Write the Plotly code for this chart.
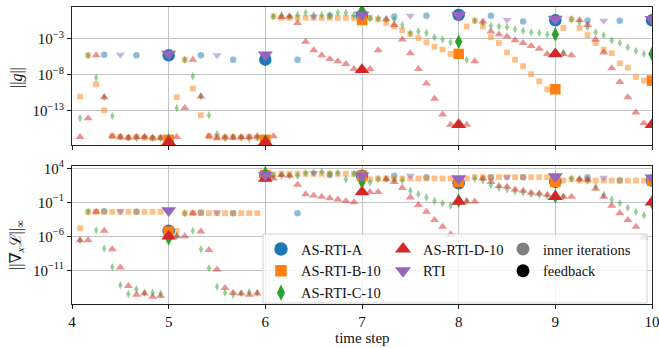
import plotly.graph_objects as go

N = None
STEPS = [4, 5, 6, 7, 8, 9]          # start of each time step (inner iterations follow)
FB_STEPS = [5, 6, 7, 8, 9, 10]      # feedback instants
SUB = 12                             # inner iterations spaced 1/12 of a step

SERIES = ["AS-RTI-A", "AS-RTI-B-10", "AS-RTI-C-10", "AS-RTI-D-10", "RTI"]

# ---------------- top panel: log10 ||g|| ----------------
A_g_in = [
    [N, N, N, -5.2, N, N, N, -5.3, N, N, N],
    [N, N, N, -5.3, N, N, N, -5.9, N, N, N],
    [N, N, N, -5.9, N, N, N, 0.2, N, N, N],
    [N, N, N, 0.1, N, N, N, 0.2, N, N, N],
    [N, N, N, 0.2, N, N, N, -0.6, N, N, N],
    [N, N, N, -0.5, N, N, N, -0.5, N, N, N],
]
A_g_fb = [-5.3, -5.9, 0.2, 0.3, -0.45, -0.45]

B_g_in = [
    [-11.0, -5.3, -9.3, -12.9, -16.5, -16.6, -16.7, -16.6, -16.7, -16.8, -16.7],
    [-11.1, -5.9, -9.9, -13.6, -16.5, -16.6, -16.7, -16.6, -16.7, -16.6, -16.7],
    [0.1, -0.1, -0.1, -0.1, -0.1, -0.1, -0.1, -0.1, -0.1, -0.1, -0.1],
    [-0.1, -0.3, -0.8, -1.3, -1.8, -2.35, -2.9, -3.5, -4.1, -4.5, -5.1],
    [-1.3, -0.5, -1.3, -2.8, -3.6, -4.9, -5.9, -6.8, -7.9, -8.9, -10.0],
    [-1.5, -0.3, -1.5, -2.5, -3.6, -4.5, -5.0, -6.4, -7.0, -8.3, -8.8],
]
B_g_fb = [-17.0, -17.0, -0.4, -5.1, -10.0, -8.8]

C_g_in = [
    [-14.0, -5.3, -8.4, -11.1, -13.7, -16.6, -16.7, -16.8, -16.6, -16.7, -16.8],
    [-12.6, -5.9, -8.2, -11.0, -13.6, -16.2, -16.8, -16.6, -16.7, -16.9, -16.7],
    [0.1, 0.3, 0.1, 0.3, 0.6, 0.3, 0.3, 0.3, 0.6, 0.6, 0.3],
    [-0.2, -0.2, -0.3, -0.4, -1.1, -2.2, -2.0, -2.2, -2.8, -3.1, -3.5],
    [-5.9, -0.5, -0.8, -1.2, -1.3, -1.4, -1.7, -1.9, -2.1, -2.2, -2.4],
    [-4.9, -0.3, -0.7, -1.4, -2.1, -2.5, -3.2, -3.6, -4.2, -4.7, -5.1],
]
C_g_fb = [-17.1, -17.2, 0.9, -3.4, -2.4, -5.1]

D_g_in = [
    [-16.6, -14.0, -5.3, -11.1, -16.5, -16.6, -16.7, -16.6, -16.6, -16.7, -16.7],
    [-16.6, -12.6, -5.9, -11.0, -16.5, -16.8, -16.6, -16.7, -16.6, -16.6, -16.5],
    [-16.5, 0.0, 0.1, -0.8, -3.4, -4.6, -5.3, -5.8, -6.1, -6.5, -7.2],
    [-7.2, -4.6, -0.3, -1.1, -3.1, -5.0, -7.2, -9.2, -11.3, -13.5, -14.9],
    [-14.9, -6.1, -0.6, -2.0, -2.4, -2.7, -3.2, -3.6, -4.0, -4.4, -5.1],
    [-5.1, -5.3, -0.4, -1.1, -3.1, -4.9, -7.1, -9.0, -11.1, -13.2, -14.7],
]
D_g_fb = [-17.3, -17.3, -7.3, -14.9, -5.1, -14.9]

R_g_in = [
    [N, N, N, N, N, -5.2, N, N, N, N, N],
    [N, N, N, N, N, -5.3, N, N, N, N, N],
    [N, N, N, N, N, 0.1, N, N, N, N, N],
    [N, N, N, N, N, 0.2, N, N, N, N, N],
    [N, N, N, N, N, -0.4, N, N, N, N, N],
    [N, N, N, N, N, -0.5, N, N, N, N, N],
]
R_g_fb = [-5.1, -5.2, 0.3, 0.3, -0.25, -0.3]

# ---------------- bottom panel: log10 ||grad_x L||_inf ----------------
A_L_in = [
    [N, N, N, -2.3, N, N, N, -2.4, N, N, N],
    [N, N, N, -2.5, N, N, N, -2.6, N, N, N],
    [N, N, N, -2.6, N, N, N, 3.0, N, N, N],
    [N, N, N, 2.9, N, N, N, 2.7, N, N, N],
    [N, N, N, 2.7, N, N, N, 2.7, N, N, N],
    [N, N, N, 2.7, N, N, N, 2.2, N, N, N],
]
A_L_fb = [-5.2, 2.9, 2.9, 1.8, 2.0, 2.2]

B_L_in = [
    [-4.8, -2.4, -2.4, -2.4, -2.4, -2.4, -2.4, -2.4, -2.4, -2.4, -2.4],
    [-5.2, -2.6, -2.6, -2.6, -2.6, -2.6, -2.6, -2.6, -2.6, -2.6, -2.6],
    [3.1, 3.2, 3.2, 3.2, 3.2, 3.2, 3.2, 3.2, 3.2, 3.2, 3.2],
    [2.4, 2.5, 2.5, 2.5, 2.5, 2.5, 2.5, 2.5, 2.5, 2.5, 2.5],
    [2.5, 2.7, 2.7, 2.7, 2.7, 2.7, 2.7, 2.7, 2.7, 2.7, 2.7],
    [2.2, 2.4, 2.2, 2.2, 2.2, 2.2, 2.2, 2.2, 2.2, 2.2, 2.2],
]
B_L_fb = [-5.3, 3.0, 2.9, 2.0, 2.0, 2.2]

C_L_in = [
    [-6.6, -2.4, -5.1, -7.8, -10.5, -13.2, -14.5, -13.8, -14.3, -14.3, -14.4],
    [-6.0, -2.6, -5.2, -7.9, -10.7, -13.4, -14.3, -14.6, -14.4, -14.2, -14.3],
    [2.9, 2.9, 2.9, 2.9, 3.3, 3.4, 3.5, 3.2, 3.3, 2.4, 3.2],
    [1.9, 2.4, 2.4, 2.3, 2.2, 0.7, 0.2, -0.3, -0.8, -1.15, -1.5],
    [-0.8, 2.5, 2.2, 1.5, 1.1, 0.9, 0.6, 0.4, 0.2, 0.1, -0.1],
    [-0.2, 2.5, 2.4, 2.2, 1.3, 0.1, -0.6, -1.1, -1.8, -2.4, -2.9],
]
C_L_fb = [-6.3, 3.3, 2.0, -0.75, -0.1, -1.0]

D_L_in = [
    [-6.6, -6.6, -2.4, -5.2, -7.9, -10.6, -13.3, -14.6, -14.4, -14.9, -14.8],
    [-6.0, -6.0, -2.6, -5.3, -8.0, -10.9, -13.6, -14.3, -14.4, -14.6, -14.4],
    [2.5, 3.0, 2.9, 1.6, 0.2, 0.0, -0.2, -0.4, -0.6, -0.8, -1.0],
    [0.5, 0.5, 2.4, 2.0, 1.1, -0.3, -1.4, -2.4, -3.6, -4.6, -5.7],
    [-0.9, -0.9, 2.5, 2.0, 1.4, 1.3, 0.9, 0.7, 0.4, 0.3, 0.1],
    [-0.2, -0.2, 2.4, 2.3, 1.0, -0.2, -1.5, -2.6, -3.6, -4.6, -6.2],
]
D_L_fb = [-6.0, 2.5, 0.5, -0.9, -0.2, -1.0]

R_L_in = [
    [N, N, N, N, N, -2.3, N, N, N, N, N],
    [N, N, N, N, N, -2.5, N, N, N, N, N],
    [N, N, N, N, N, 3.3, N, N, N, N, N],
    [N, N, N, N, N, 2.9, N, N, N, N, N],
    [N, N, N, N, N, 2.7, N, N, N, N, N],
    [N, N, N, N, N, 2.6, N, N, N, N, N],
]
R_L_fb = [-2.2, 3.0, 2.9, 2.5, 2.8, 2.6]

X_TICKS = [4, 5, 6, 7, 8, 9, 10]
G_TICKS = [-3, -8, -13]
L_TICKS = [4, -1, -6, -11]

# ---------------- styling ----------------
STYLE = {
    "AS-RTI-A":    dict(color="#1f77b4", symbol="circle",        s_in=6.5, s_fb=12.5),
    "AS-RTI-B-10": dict(color="#ff7f0e", symbol="square",        s_in=5.8, s_fb=10.5),
    "AS-RTI-C-10": dict(color="#2ca02c", symbol="diamond-tall",  s_in=6.0, s_fb=10.5),
    "AS-RTI-D-10": dict(color="#d62728", symbol="triangle-up",   s_in=8.0, s_fb=13.0),
    "RTI":         dict(color="#9467bd", symbol="triangle-down", s_in=8.0, s_fb=13.0),
}
FONT = "'Liberation Serif', 'DejaVu Serif', serif"

g_in = [A_g_in, B_g_in, C_g_in, D_g_in, R_g_in]
g_fb = [A_g_fb, B_g_fb, C_g_fb, D_g_fb, R_g_fb]
L_in = [A_L_in, B_L_in, C_L_in, D_L_in, R_L_in]
L_fb = [A_L_fb, B_L_fb, C_L_fb, D_L_fb, R_L_fb]


def inner_xy(rows):
    xs, ys = [], []
    for s, row in zip(STEPS, rows):
        for k, v in enumerate(row):
            if v is None:
                continue
            xs.append(s + (k + 1) / SUB)
            ys.append(10 ** v)
    return xs, ys


fig = go.Figure()

for (xa, ya, inn, fbs) in [("x", "y", g_in, g_fb), ("x2", "y2", L_in, L_fb)]:
    for name, rows in zip(SERIES, inn):
        st = STYLE[name]
        xs, ys = inner_xy(rows)
        fig.add_trace(go.Scatter(
            x=xs, y=ys, mode="markers", xaxis=xa, yaxis=ya, showlegend=False,
            marker=dict(color=st["color"], symbol=st["symbol"], size=st["s_in"],
                        opacity=0.5, line=dict(width=0)),
            hoverinfo="skip"))
    for name, vals in zip(SERIES, fbs):
        st = STYLE[name]
        fig.add_trace(go.Scatter(
            x=FB_STEPS, y=[10 ** v for v in vals], mode="markers", xaxis=xa, yaxis=ya,
            showlegend=False,
            marker=dict(color=st["color"], symbol=st["symbol"], size=st["s_fb"],
                        line=dict(width=0)),
            hoverinfo="skip"))

# legend entries
LEG_GROUPS = [
    ("legend", ["AS-RTI-A", "AS-RTI-B-10", "AS-RTI-C-10"]),
    ("legend2", ["AS-RTI-D-10", "RTI"]),
]
for leg, names in LEG_GROUPS:
    for name in names:
        st = STYLE[name]
        fig.add_trace(go.Scatter(
            x=[None], y=[None], mode="markers", name=name, legend=leg,
            xaxis="x2", yaxis="y2",
            marker=dict(color=st["color"], symbol=st["symbol"],
                        size=st["s_fb"] + 1, line=dict(width=0))))
for name, col in [("inner iterations", "#808080"), ("feedback", "#000000")]:
    fig.add_trace(go.Scatter(
        x=[None], y=[None], mode="markers", name=name, legend="legend3",
        xaxis="x2", yaxis="y2",
        marker=dict(color=col, symbol="circle", size=13, line=dict(width=0))))

# ---------------- layout ----------------
L_M, R_M, T_M, B_M = 72, 7, 7, 44
W, H = 659, 348
PW, PH = W - L_M - R_M, H - T_M - B_M


def px(x):
    return (x - L_M) / PW


def py(y):
    return (H - B_M - y) / PH


GRID = "#c4c4c4"
axis_common = dict(showgrid=True, gridcolor=GRID, gridwidth=1, zeroline=False,
                   showline=True, linecolor="#222222", linewidth=1, mirror=True,
                   ticks="outside", ticklen=4, tickwidth=1, tickcolor="#222222",
                   automargin=False, ticklabeloverflow="allow",
                   tickfont=dict(family=FONT, size=15, color="#111111"))


def sup(p):
    s = str(p).replace("-", "\u2212")
    return "10<sup>" + s + "</sup>"


fig.update_layout(
    template="none",
    width=W, height=H,
    margin=dict(l=L_M, r=R_M, t=T_M, b=B_M, autoexpand=False),
    paper_bgcolor="white", plot_bgcolor="white",
    font=dict(family=FONT, size=15, color="#111111"),
    xaxis=dict(domain=[0, 1], anchor="y", range=[4, 10], tickvals=X_TICKS,
               showticklabels=False, **axis_common),
    yaxis=dict(domain=[py(145), 1], anchor="x", type="log", range=[-17.72, 1.40],
               tickvals=[10 ** p for p in G_TICKS], ticktext=[sup(p) for p in G_TICKS],
               **axis_common),
    xaxis2=dict(domain=[0, 1], anchor="y2", range=[4, 10], tickvals=X_TICKS,
                ticktext=[str(t) for t in X_TICKS], **axis_common),
    yaxis2=dict(domain=[0, py(166)], anchor="x2", type="log", range=[-15.96, 4.34],
                tickvals=[10 ** p for p in L_TICKS], ticktext=[sup(p) for p in L_TICKS],
                **axis_common),
    showlegend=True,
)

leg_common = dict(bgcolor="rgba(0,0,0,0)", borderwidth=0, orientation="v",
                  xanchor="left", yanchor="top",
                  font=dict(family=FONT, size=14.5, color="#111111"), itemsizing="trace")
fig.update_layout(
    legend=dict(x=px(261), y=py(233), **leg_common),
    legend2=dict(x=px(383), y=py(233), **leg_common),
    legend3=dict(x=px(503), y=py(233), **leg_common),
)

# legend frame
fig.add_shape(type="rect", xref="paper", yref="paper",
              x0=px(263), x1=px(647), y0=py(303), y1=py(234),
              fillcolor="rgba(255,255,255,0.8)", line=dict(color="#d0d0d0", width=1),
              layer="above")

# axis titles
ann_common = dict(xref="paper", yref="paper", showarrow=False,
                  xanchor="center", yanchor="middle")
fig.add_annotation(text="||<i>g</i>||", x=px(17), y=py(78), textangle=-90,
                   font=dict(family=FONT, size=16, color="#111111"), **ann_common)
fig.add_annotation(text="||\u2207<sub><i>x</i></sub>\u2112||<sub>\u221e</sub>",
                   x=px(16), y=py(245), textangle=-90,
                   font=dict(family=FONT, size=16, color="#111111"), **ann_common)
fig.add_annotation(text="time step", x=px(362), y=py(338),
                   font=dict(family=FONT, size=15, color="#111111"), **ann_common)

fig.write_html("out.html", config={"displayModeBar": False},
               post_script="document.body.style.margin='0';document.body.style.overflow='hidden';")
